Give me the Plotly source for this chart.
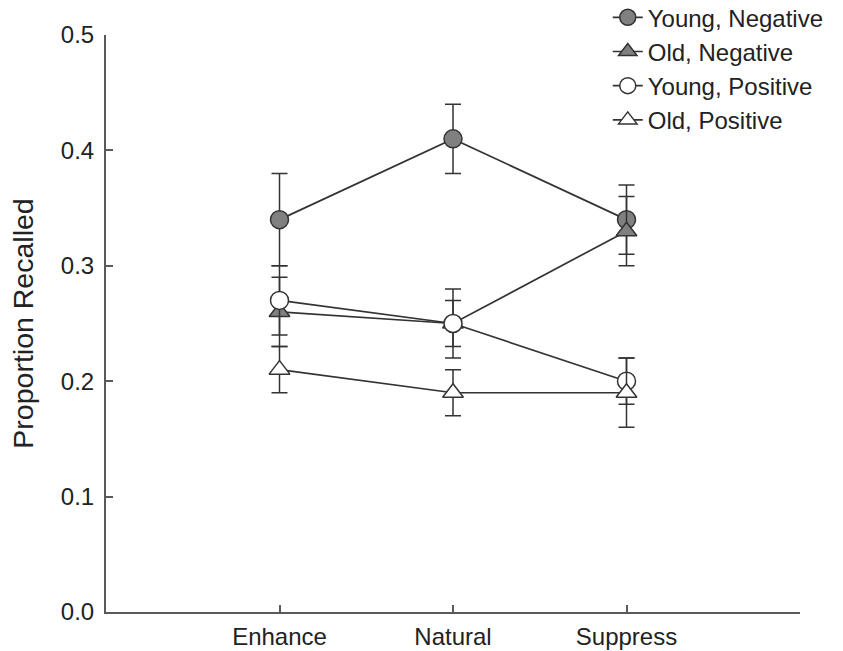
import plotly.graph_objects as go

conditions = ["Enhance", "Natural", "Suppress"]
series_names = ["Young, Negative", "Old, Negative", "Young, Positive", "Old, Positive"]
young_neg = [0.34, 0.41, 0.34]
young_neg_err = [0.04, 0.03, 0.03]
old_neg = [0.26, 0.25, 0.33]
old_neg_err = [0.03, 0.02, 0.03]
young_pos = [0.27, 0.25, 0.20]
young_pos_err = [0.03, 0.03, 0.02]
old_pos = [0.21, 0.19, 0.19]
old_pos_err = [0.02, 0.02, 0.03]
y_ticks = [0.0, 0.1, 0.2, 0.3, 0.4, 0.5]

values = [young_neg, old_neg, young_pos, old_pos]
errors = [young_neg_err, old_neg_err, young_pos_err, old_pos_err]
symbols = ["circle", "triangle-up", "circle", "triangle-up"]
fills = ["#808080", "#808080", "#ffffff", "#ffffff"]

line_col = "#333333"
axis_col = "#5a5a5a"
text_col = "#222222"
font_family = "Liberation Sans, Arial, sans-serif"
xpos = list(range(len(conditions)))

fig = go.Figure()
for name, v, e, sym, fc in zip(series_names, values, errors, symbols, fills):
    fig.add_trace(go.Scatter(
        x=xpos, y=v, name=name, mode="lines+markers",
        line=dict(color=line_col, width=1.7),
        marker=dict(symbol=sym, size=18, color=fc, line=dict(color=line_col, width=1.5)),
        error_y=dict(type="data", array=e, visible=True, color=line_col, thickness=1.5, width=8),
    ))

fig.update_layout(
    width=843, height=651,
    margin=dict(l=106, r=43, t=35, b=39, autoexpand=False),
    paper_bgcolor="white", plot_bgcolor="white",
    font=dict(family=font_family, size=24, color=text_col),
    showlegend=True,
    legend=dict(x=0.723, y=1.069, xref="paper", yref="paper", xanchor="left", yanchor="top",
                bgcolor="rgba(0,0,0,0)", font=dict(size=24, color=text_col),
                tracegroupgap=0),
)
fig.update_xaxes(
    range=[-1, 3], tickmode="array", tickvals=xpos, ticktext=conditions,
    showgrid=False, zeroline=False, showline=True, linecolor=axis_col, linewidth=2,
    ticks="inside", ticklen=7, tickcolor=axis_col, tickwidth=1.5,
    tickfont=dict(size=24, color=text_col), ticklabelstandoff=2,
)
fig.update_yaxes(
    range=[0, 0.5], tickmode="array", tickvals=y_ticks,
    ticktext=[f"{t:.1f}" for t in y_ticks],
    showgrid=False, zeroline=False, showline=True, linecolor=axis_col, linewidth=2,
    ticks="inside", ticklen=7, tickcolor=axis_col, tickwidth=1.5,
    tickfont=dict(size=24, color=text_col), ticklabelstandoff=5,
    title=dict(text="Proportion Recalled", font=dict(size=28.5, color=text_col), standoff=19),
)

fig.write_html("out.html", config={"displayModeBar": False},
               post_script="document.body.style.margin='0';document.body.style.overflow='hidden';")
